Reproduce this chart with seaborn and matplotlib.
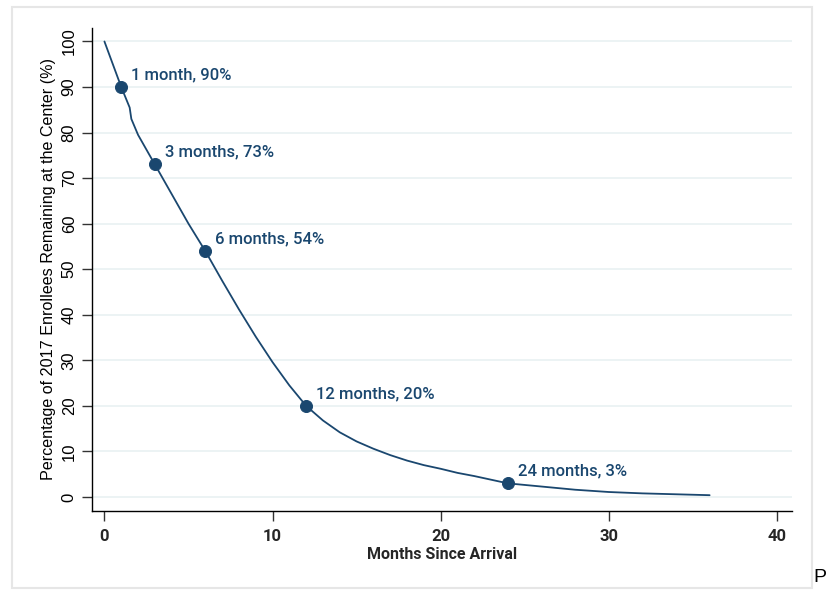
import matplotlib
matplotlib.use("Agg")
import matplotlib.pyplot as plt
import seaborn as sns
import pandas as pd
from matplotlib.patches import Rectangle

# survival curve
months = [0, 0.5, 1, 1.5, 1.6, 2, 3, 4, 5, 6, 7, 8, 9, 10, 11, 12, 13, 14, 15, 16, 17, 18, 19, 20,
          21, 22, 23, 24, 26, 28, 30, 32, 34, 36]
pct = [100, 95, 90, 85.5, 83, 79.5, 73, 66.5, 60, 54, 47.5, 41.2, 35.2, 29.6, 24.5, 20, 16.8, 14.2,
       12.2, 10.6, 9.2, 8.0, 7.0, 6.2, 5.3, 4.6, 3.8, 3.0, 2.3, 1.6, 1.1, 0.8, 0.6, 0.4]

# highlighted points
mark_months = [1, 3, 6, 12, 24]
mark_pct = [90, 73, 54, 20, 3]
mark_labels = ["1 month, 90%", "3 months, 73%", "6 months, 54%", "12 months, 20%", "24 months, 3%"]

navy = "#1a476f"
narrow = ["Liberation Sans Narrow", "Roboto", "DejaVu Sans"]
plain = ["Liberation Sans", "Arial", "DejaVu Sans"]

sns.set_style("white")
plt.rcParams["font.family"] = plain

df = pd.DataFrame({"months": months, "pct": pct})
pts = pd.DataFrame({"months": mark_months, "pct": mark_pct})

fig = plt.figure(figsize=(8.27, 5.90), dpi=100)
ax = fig.add_axes([92 / 827, 1 - 511 / 590, 700 / 827, 483 / 590])

# outer frame like the source export
fig.patches.append(
    Rectangle((12 / 827, 2 / 590), 800 / 827, 581 / 590, transform=fig.transFigure,
              fill=False, edgecolor="#e6e6e6", linewidth=1.5)
)

sns.lineplot(data=df, x="months", y="pct", ax=ax, color=navy, linewidth=1.3)
sns.scatterplot(data=pts, x="months", y="pct", ax=ax, color=navy, s=75, edgecolor=navy, zorder=3)

for m, p, lab in zip(mark_months, mark_pct, mark_labels):
    ax.annotate(lab, (m, p), xytext=(7, 9), textcoords="offset points",
                ha="left", va="center", color=navy, fontsize=12,
                family=narrow, fontweight="medium")

ax.set_xlim(-0.74, 40.9)
ax.set_ylim(-3.07, 102.96)
ax.set_xticks([0, 10, 20, 30, 40])
ax.set_yticks(range(0, 101, 10))
ax.yaxis.grid(True, color="#eaf2f3", linewidth=1.3)
ax.xaxis.grid(False)
ax.set_axisbelow(True)

sns.despine(ax=ax, top=True, right=True)
for s in ["left", "bottom"]:
    ax.spines[s].set_color("black")
    ax.spines[s].set_linewidth(1.0)

ax.tick_params(axis="both", direction="out", length=7, width=1, color="#333333",
               bottom=True, left=True)
ax.tick_params(axis="x", labelsize=12, pad=6)
ax.tick_params(axis="y", labelsize=12, pad=4, labelcolor="black")
for t in ax.get_xticklabels():
    t.set_family(narrow)
    t.set_fontweight("bold")
for t in ax.get_yticklabels():
    t.set_rotation(90)
    t.set_va("center")

ax.set_xlabel("Months Since Arrival", fontsize=11.5, family=narrow, fontweight="bold", labelpad=2)
ax.set_ylabel("Percentage of 2017 Enrollees Remaining at the Center (%)", fontsize=11.6,
              labelpad=4, color="black")

# text from the page at the bottom right, outside the frame
fig.text(813 / 827, 4 / 590, "P", fontsize=14, ha="left", va="bottom", color="black")

fig.savefig("out.png", dpi=100)
